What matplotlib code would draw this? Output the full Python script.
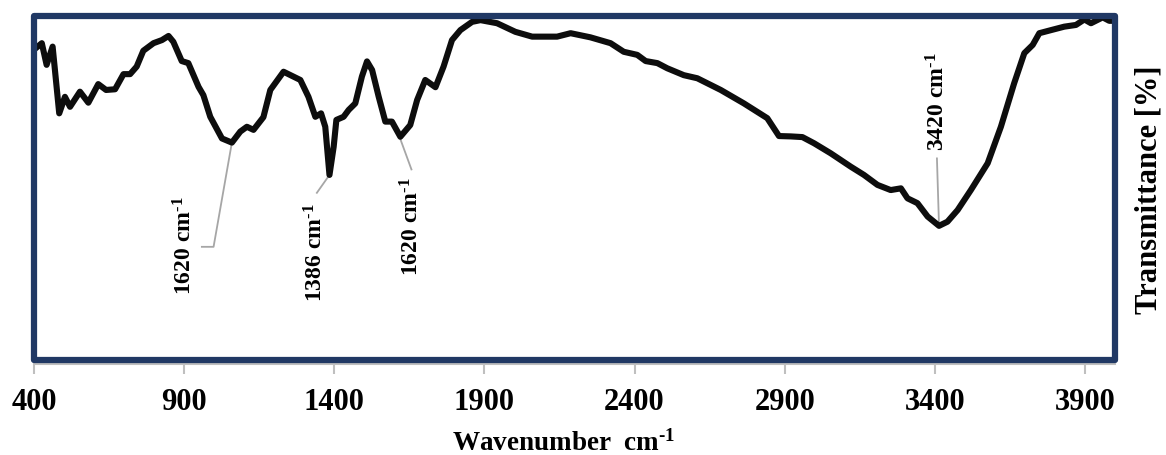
import matplotlib
matplotlib.use("Agg")
import matplotlib.pyplot as plt
from matplotlib.patches import Rectangle

plt.rcParams['font.family'] = ['Liberation Serif', 'DejaVu Serif']
plt.rcParams['font.weight'] = 'bold'
plt.rcParams['mathtext.fontset'] = 'custom'
plt.rcParams['mathtext.rm'] = 'Liberation Serif:bold'
plt.rcParams['mathtext.it'] = 'Liberation Serif:bold'
plt.rcParams['mathtext.bf'] = 'Liberation Serif:bold'

# FTIR spectrum (wavenumber cm-1, transmittance %)
wavenumber = [401, 426, 442, 462, 484, 503, 520, 553, 581, 614, 640, 670, 698, 720,
              742, 764, 798, 826, 848, 864, 892, 914, 948, 964, 987, 1026, 1059,
              1087, 1109, 1131, 1164, 1187, 1231, 1287, 1314, 1337, 1356, 1370,
              1384, 1398, 1407, 1431, 1448, 1470, 1492, 1509, 1526, 1548, 1570,
              1592, 1620, 1653, 1676, 1703, 1737, 1764, 1792, 1820, 1859, 1887,
              1942, 2003, 2059, 2142, 2187, 2253, 2320, 2364, 2409, 2437, 2476,
              2509, 2564, 2609, 2687, 2764, 2842, 2881, 2920, 2959, 2998, 3053,
              3120, 3164, 3209, 3253, 3287, 3309, 3342, 3376, 3414, 3442, 3476,
              3520, 3576, 3620, 3664, 3698, 3726, 3748, 3787, 3831, 3870, 3898,
              3920, 3959, 3981, 4000]
transmittance = [90.3, 92.1, 85.8, 91.1, 71.7, 76.5, 73.6, 78.0, 74.8, 80.2, 78.5,
                 78.7, 83.1, 83.1, 85.3, 89.9, 92.1, 93.0, 94.2, 92.5, 86.9, 86.3,
                 79.4, 77.0, 70.7, 64.4, 63.2, 66.4, 67.8, 66.9, 70.6, 78.5, 83.8,
                 81.4, 76.5, 70.7, 71.7, 67.8, 53.8, 62.0, 69.8, 70.7, 72.7, 74.6,
                 82.4, 86.8, 84.3, 76.5, 69.3, 69.3, 64.9, 68.3, 75.6, 81.4, 79.3,
                 85.3, 93.0, 95.9, 98.3, 98.8, 97.9, 95.4, 94.0, 94.0, 95.0, 93.8,
                 92.1, 89.6, 88.7, 86.9, 86.3, 84.8, 82.8, 81.9, 78.5, 74.6, 70.3,
                 65.1, 65.0, 64.8, 63.0, 60.1, 56.2, 53.8, 50.9, 49.4, 49.9, 47.0,
                 45.6, 41.7, 39.0, 40.2, 43.6, 49.4, 57.2, 67.8, 80.4, 89.2, 91.6,
                 95.0, 95.9, 96.9, 97.4, 99.0, 97.9, 99.6, 98.6, 98.6]

tick_values = [400, 900, 1400, 1900, 2400, 2900, 3400, 3900]

sup = r'$^{\text{-}1}$'
# peak labels: text, peak point, leader path, text position
peak_labels = ['1620 cm' + sup, '1386 cm' + sup, '1620 cm' + sup, '3420 cm' + sup]
peak_points = [(1059, 63.2), (1384, 53.8), (1618, 64.7), (3414, 38.8)]
leader_paths = [[(998, 32.9), (959, 32.9)], [(1342, 48.6)], [(1657, 55.4)], [(3407, 58.6)]]
label_pos = [(903, 33.1), (1340, 31.1), (1657, 38.7), (3410, 75.0)]

W, H = 1166, 455
fig = plt.figure(figsize=(W / 100, H / 100), dpi=100)
ax = fig.add_axes([34 / W, (H - 360) / H, (1115 - 34) / W, (360 - 16) / H])

ax.plot(wavenumber, transmittance, color='#0d0d0d', lw=4.4,
        solid_joinstyle='round', solid_capstyle='round', zorder=3, clip_on=False)

for pt, path, pos, txt in zip(peak_points, leader_paths, label_pos, peak_labels):
    xs = [pt[0]] + [p[0] for p in path]
    ys = [pt[1]] + [p[1] for p in path]
    ax.plot(xs, ys, color='#a6a6a6', lw=1.3, zorder=2)
    ax.text(pos[0], pos[1], txt, rotation=90, ha='center', va='center',
            fontsize=17, fontweight='bold')

ax.set_xlim(400, 4000)
ax.set_ylim(0, 100)
ax.set_yticks([])
ax.set_xticks(tick_values)
ax.set_xticklabels([str(v) for v in tick_values])
ax.tick_params(axis='x', colors='#bfbfbf', length=7, width=1.5, pad=10,
               labelcolor='black', labelsize=22)

for s in ['top', 'left', 'right']:
    ax.spines[s].set_visible(False)
ax.spines['bottom'].set_position(('outward', 3))
ax.spines['bottom'].set_color('#bfbfbf')
ax.spines['bottom'].set_linewidth(1.5)

# plot area border
ax.add_patch(Rectangle((0, 0), 1, 1, transform=ax.transAxes, fill=False,
                       ec='#203864', lw=4.5, joinstyle='round', clip_on=False, zorder=5))

fig.text(1149 / W, 1 - 190 / H, 'Transmittance [%]', rotation=90, ha='center',
         va='center', fontsize=22, fontweight='bold')
fig.text(564 / W, 1 - 443 / H, 'Wavenumber  cm' + sup, ha='center', va='center',
         fontsize=19.5, fontweight='bold')

fig.savefig('out.png', dpi=100)
